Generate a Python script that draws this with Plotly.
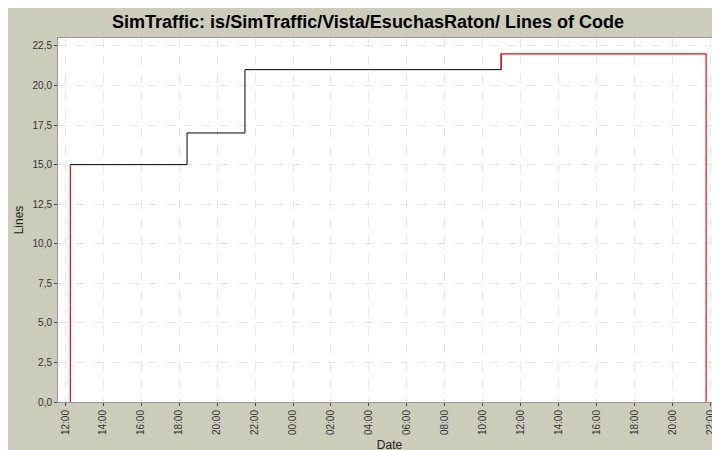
import plotly.graph_objects as go
import pandas as pd

dates = ["2010-01-01 12:16", "2010-01-01 18:25", "2010-01-01 21:28", "2010-01-02 10:58", "2010-01-02 21:46"]
lines = [15, 17, 21, 22, 22]

d = pd.to_datetime(dates)
fig = go.Figure()
fig.add_trace(go.Scatter(x=d[:4], y=lines[:4], mode="lines", line=dict(color="black", width=1, shape="hv")))
fig.add_trace(go.Scatter(x=[d[0], d[0]], y=[0, lines[0]], mode="lines", line=dict(color="red", width=1.2)))
fig.add_trace(go.Scatter(x=[d[3], d[3], d[4], d[4]], y=[lines[2], lines[3], lines[4], 0], mode="lines",
                         line=dict(color="red", width=1.2)))

ticks = pd.date_range("2010-01-01 12:00", "2010-01-02 22:00", freq="2h")
fig.update_layout(
    width=720, height=450, showlegend=False,
    paper_bgcolor="#CCCCBA", plot_bgcolor="white",
    margin=dict(l=50, r=7, t=30, b=56, autoexpand=False),
    separators=",.",
    title=dict(text="<b>SimTraffic: is/SimTraffic/Vista/EsuchasRaton/ Lines of Code</b>", x=0.5, y=0.97,
               yanchor="middle", font=dict(family="Liberation Sans", size=18, color="black")),
    font=dict(family="Liberation Sans", size=11, color="#333333"),
)
fig.update_xaxes(range=[pd.Timestamp("2010-01-01 11:37"), pd.Timestamp("2010-01-02 22:33")],
                 tickvals=ticks, ticktext=[t.strftime("%H:%M") for t in ticks], tickangle=-90,
                 automargin=False,
                 showgrid=True, gridcolor="#E6E6E6", griddash="dash", ticks="outside", ticklen=3,
                 showline=True, linecolor="#999999", mirror=True,
                 title=dict(text="Date", standoff=6, font=dict(size=12, color="#222")), tickfont=dict(size=10))
fig.update_yaxes(range=[0, 23], dtick=2.5, tickformat=".1f", automargin=False,
                 showgrid=True, gridcolor="#E6E6E6", griddash="dash", ticks="outside", ticklen=3,
                 showline=True, linecolor="#999999", mirror=True, zeroline=False,
                 title=dict(text="Lines", standoff=6, font=dict(size=12, color="#222")), tickfont=dict(size=10))
fig.write_html("out.html")
